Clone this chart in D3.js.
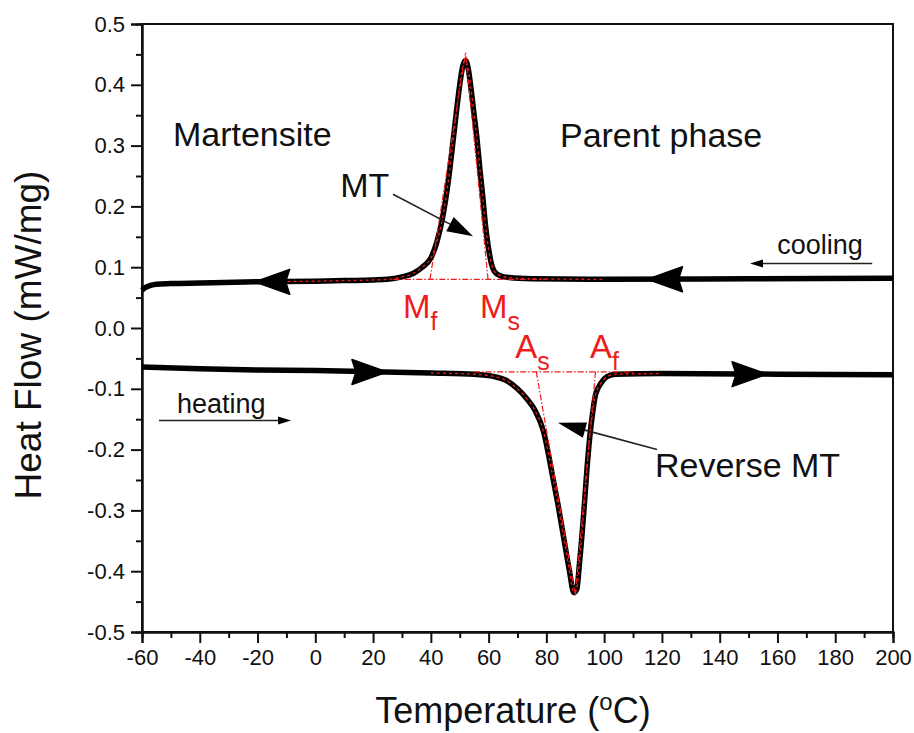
<!DOCTYPE html>
<html>
<head>
<meta charset="utf-8">
<script src="https://cdn.jsdelivr.net/npm/d3@7"></script>
<style>
  body { margin: 0; background: #fff; }
  svg text { font-family: "Liberation Sans", Arial, sans-serif; fill: #111; }
</style>
</head>
<body>
<svg id="chart" width="914" height="733"></svg>
<script>
// cooling run (upper curve)
var coolTemp = [-60, -59, -57, -55, -50, -40, -20, 0, 10, 20, 25, 30, 34, 37, 40, 42, 44, 46, 48, 50, 51, 52, 53, 54, 55, 56, 57, 58, 59, 60, 61, 62, 64, 67, 75, 100, 150, 200];
var coolFlow = [0.062, 0.066, 0.070, 0.072, 0.073, 0.074, 0.076, 0.077, 0.078, 0.079, 0.080, 0.084, 0.090, 0.100, 0.115, 0.140, 0.180, 0.240, 0.320, 0.400, 0.430, 0.440, 0.425, 0.390, 0.350, 0.310, 0.260, 0.215, 0.165, 0.130, 0.105, 0.093, 0.086, 0.083, 0.081, 0.080, 0.081, 0.082];

// heating run (lower curve)
var heatTemp = [-60, -40, -20, 0, 20, 40, 55, 62, 66, 70, 73, 76, 79, 82, 84, 86, 88, 89.5, 90.5, 91.5, 93, 94, 95, 96, 97, 99, 101, 104, 120, 160, 200];
var heatFlow = [-0.064, -0.067, -0.069, -0.070, -0.072, -0.074, -0.076, -0.080, -0.086, -0.100, -0.115, -0.135, -0.170, -0.240, -0.290, -0.345, -0.400, -0.435, -0.430, -0.385, -0.300, -0.235, -0.180, -0.140, -0.110, -0.090, -0.080, -0.076, -0.075, -0.076, -0.077];

// ranges where the red fitted curve overlays the black one
var coolFitRange = [-21, 115];
var heatFitRange = [36, 145];

// tangent construction (temperature, heat flow)
var mfPoint = [39.7, 0.080], msPoint = [59.8, 0.080], coolApex = [52, 0.453];
var asPoint = [76.5, -0.072], afPoint = [97, -0.072], heatApex = [90, -0.44];
var coolBase = [[27, 0.080], [80, 0.080]];
var heatBase = [[55, -0.072], [110, -0.072]];

// direction arrowheads on the curves: tip temperature
var coolArrowTips = [-21, 115];
var heatArrowTips = [24.8, 156.4];

var xTicks = d3.range(-60, 201, 20);
var yTicks = d3.range(-0.5, 0.501, 0.1);

var svg = d3.select('#chart');
var margin = {left: 142, top: 24, right: 21, bottom: 101};
var W = 914 - margin.left - margin.right;
var H = 733 - margin.top - margin.bottom;

var x = d3.scaleLinear().domain([-60, 200]).range([0, W]);
var y = d3.scaleLinear().domain([-0.5, 0.5]).range([H, 0]);

var g = svg.append('g').attr('transform', 'translate(' + margin.left + ',' + margin.top + ')');

// frame
g.append('rect').attr('width', W).attr('height', H)
  .attr('fill', 'none').attr('stroke', '#111').attr('stroke-width', 2);

// minor ticks
var xAxisMinor = d3.axisBottom(x).tickValues(d3.range(-50, 200, 20)).tickSize(6).tickFormat('');
var yAxisMinor = d3.axisLeft(y).tickValues(d3.range(-0.45, 0.5, 0.1)).tickSize(6).tickFormat('');
g.append('g').attr('transform', 'translate(0,' + H + ')').call(xAxisMinor);
g.append('g').call(yAxisMinor);

// plain hyphen for negatives, as in the original
var xAxis = d3.axisBottom(x).tickValues(xTicks).tickSize(11).tickPadding(6)
  .tickFormat(function(d) { return String(d); });
var yAxis = d3.axisLeft(y).tickValues(yTicks).tickSize(11).tickPadding(6)
  .tickFormat(function(d) { return Math.abs(d) < 1e-9 ? '0.0' : d.toFixed(1); });
g.append('g').attr('class', 'xa').attr('transform', 'translate(0,' + H + ')').call(xAxis);
g.append('g').attr('class', 'ya').call(yAxis);

g.selectAll('.domain').attr('stroke', '#111').attr('stroke-width', 2);
g.selectAll('.tick line').attr('stroke', '#111').attr('stroke-width', 2);
g.selectAll('.tick text').style('font-size', '22px').attr('fill', '#111');

// axis titles
svg.append('text')
  .attr('transform', 'translate(41,335) rotate(-90)')
  .attr('text-anchor', 'middle')
  .style('font-size', '37px')
  .text('Heat Flow (mW/mg)');

var xt = svg.append('text')
  .attr('x', 513).attr('y', 723)
  .attr('text-anchor', 'middle')
  .style('font-size', '36px');
xt.append('tspan').text('Temperature (');
xt.append('tspan').attr('dy', -13).style('font-size', '24px').text('o');
xt.append('tspan').attr('dy', 13).text('C)');

// curves
var line = d3.line()
  .x(function(d) { return x(d[0]); })
  .y(function(d) { return y(d[1]); })
  .curve(d3.curveMonotoneX);

var cool = coolTemp.map(function(t, i) { return [t, coolFlow[i]]; });
var heat = heatTemp.map(function(t, i) { return [t, heatFlow[i]]; });

g.append('path').datum(cool).attr('d', line)
  .attr('fill', 'none').attr('stroke', '#000').attr('stroke-width', 5.5).attr('stroke-linejoin', 'round');
g.append('path').datum(heat).attr('d', line)
  .attr('fill', 'none').attr('stroke', '#000').attr('stroke-width', 5.5).attr('stroke-linejoin', 'round');

var red = '#ee1c1c';

// red dotted fit over the curves
g.append('path').datum(cool.filter(function(d) { return d[0] >= coolFitRange[0] && d[0] <= coolFitRange[1]; }))
  .attr('d', line).attr('fill', 'none').attr('stroke', red).attr('stroke-width', 1.3).attr('stroke-dasharray', '3,3');
g.append('path').datum(heat.filter(function(d) { return d[0] >= heatFitRange[0] && d[0] <= heatFitRange[1]; }))
  .attr('d', line).attr('fill', 'none').attr('stroke', red).attr('stroke-width', 1.3).attr('stroke-dasharray', '3,3');

// tangent construction lines
var straight = d3.line().x(function(d) { return x(d[0]); }).y(function(d) { return y(d[1]); });
[coolBase, heatBase, [mfPoint, coolApex], [msPoint, coolApex], [asPoint, heatApex], [afPoint, heatApex]]
  .forEach(function(seg) {
    g.append('path').attr('d', straight(seg))
      .attr('fill', 'none').attr('stroke', red).attr('stroke-width', 1.2)
      .attr('stroke-dasharray', '6,2,1.5,2');
  });

// direction arrowheads on the curves
function bigHead(tipT, data, dir) {
  var interp = d3.scaleLinear().domain(data.map(function(d) { return d[0]; })).range(data.map(function(d) { return d[1]; }));
  var tx = x(tipT), ty = y(interp(tipT));
  var len = 35, half = 12.5;
  var bx = tx - dir * len;
  g.append('path')
    .attr('d', 'M' + tx + ',' + ty + 'L' + bx + ',' + (ty - half) + 'L' + (bx + dir * 4) + ',' + ty + 'L' + bx + ',' + (ty + half) + 'Z')
    .attr('fill', '#000').attr('stroke', '#000').attr('stroke-width', 1.5).attr('stroke-linejoin', 'round');
}
coolArrowTips.forEach(function(t) { bigHead(t, cool, -1); });
heatArrowTips.forEach(function(t) { bigHead(t, heat, 1); });

// annotation arrows
function pointer(from, to, headLen, headHalf, width) {
  var x0 = x(from[0]), y0 = y(from[1]), x1 = x(to[0]), y1 = y(to[1]);
  var a = Math.atan2(y1 - y0, x1 - x0);
  var bx = x1 - headLen * Math.cos(a), by = y1 - headLen * Math.sin(a);
  g.append('line').attr('x1', x0).attr('y1', y0).attr('x2', bx).attr('y2', by)
    .attr('stroke', '#222').attr('stroke-width', width);
  var px = -Math.sin(a) * headHalf, py = Math.cos(a) * headHalf;
  g.append('path')
    .attr('d', 'M' + x1 + ',' + y1 + 'L' + (bx + px) + ',' + (by + py) + 'L' + (bx - px) + ',' + (by - py) + 'Z')
    .attr('fill', '#000');
}
pointer([26.9, 0.22], [54.6, 0.151], 26, 8, 1.6);
pointer([118.3, -0.2], [84.0, -0.156], 28, 8, 1.6);
pointer([192.8, 0.106], [150.5, 0.106], 13, 4, 1.5);
pointer([-54.1, -0.152], [-8.4, -0.152], 13, 4, 1.5);

// labels
function label(t, v, txt, size, color) {
  return g.append('text').attr('x', x(t)).attr('y', y(v))
    .style('font-size', size + 'px').style('fill', color || '#111').text(txt);
}
label(-49.3, 0.300, 'Martensite', 34);
label(84.7, 0.297, 'Parent phase', 34);
label(8.6, 0.215, 'MT', 34);
label(117.6, -0.245, 'Reverse MT', 34);
label(159.9, 0.121, 'cooling', 27);
label(-47.9, -0.139, 'heating', 27);

function subLabel(t, v, main, sub) {
  var tx = g.append('text').attr('x', x(t)).attr('y', y(v))
    .style('font-size', '33px').style('fill', red);
  tx.append('tspan').style('fill', red).text(main);
  tx.append('tspan').attr('dy', 12).style('font-size', '25px').style('fill', red).text(sub);
}
subLabel(30.4, 0.017, 'M', 'f');
subLabel(57.0, 0.017, 'M', 's');
subLabel(69.2, -0.049, 'A', 's');
subLabel(95.1, -0.049, 'A', 'f');
</script>
</body>
</html>
